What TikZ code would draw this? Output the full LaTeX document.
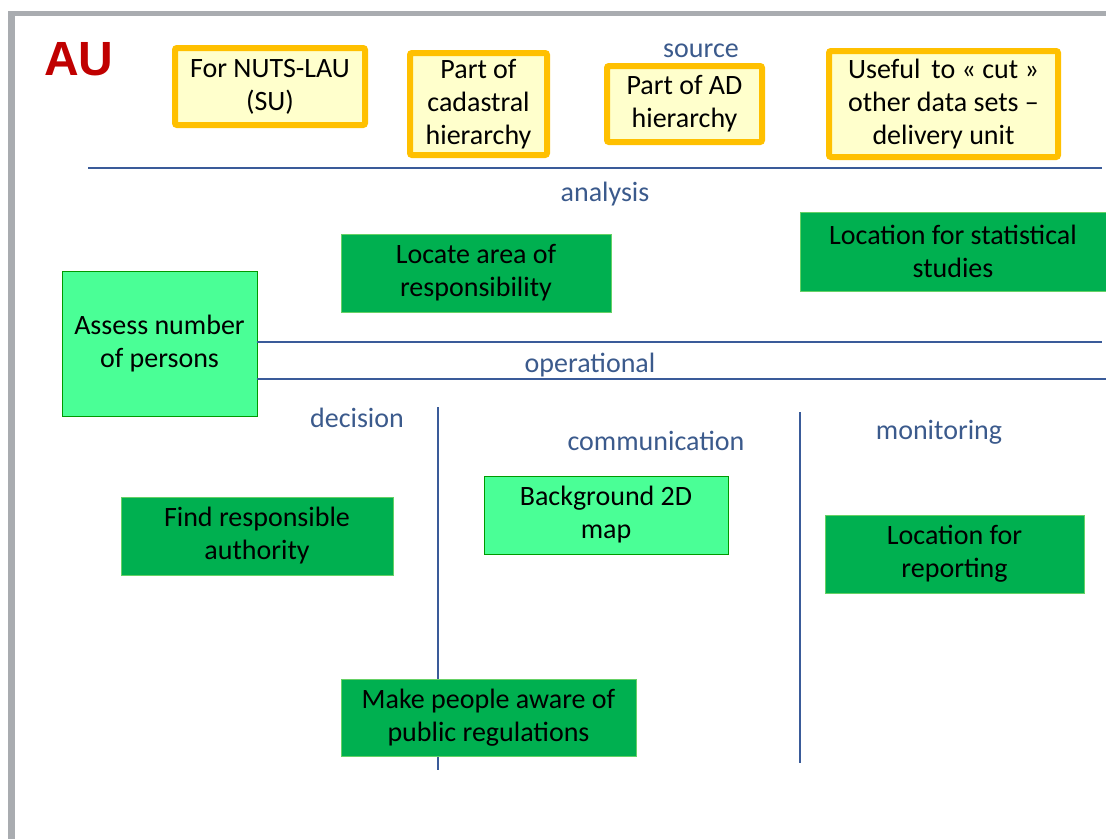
\documentclass[tikz,border=0pt]{standalone}
\usepackage{fontspec}
\setmainfont{Carlito}
\newfontfamily\titlefont{Liberation Sans}
\usepackage{xcolor}
\usepackage{tikz}
\usetikzlibrary{positioning}

\definecolor{srcorange}{HTML}{FFC000}
\definecolor{srcfill}{HTML}{FFFFCC}
\definecolor{darkgreen}{HTML}{00B050}
\definecolor{lightgreen}{HTML}{4AFF96}
\definecolor{labelblue}{HTML}{3B5A8C}
\definecolor{lineblue}{HTML}{3A5B99}
\definecolor{aured}{HTML}{C00000}
\definecolor{framegray}{HTML}{A9ACB0}

\begin{document}
\begin{tikzpicture}[
    x=1pt, y=-1pt,
    source/.style={rectangle, draw=srcorange, line width=6pt, fill=srcfill, rounded corners=2pt, align=center, inner sep=0pt, font=\fontsize{28}{33}\selectfont},
    usecase/.style={rectangle, draw=green!70!black!60, fill=darkgreen, align=center, inner sep=0pt, minimum height=78pt, font=\fontsize{28}{33}\selectfont},
    usecaselight/.style={rectangle, draw=green!60!black, fill=lightgreen, align=center, inner sep=0pt, font=\fontsize{28}{33}\selectfont},
    level/.style={text=labelblue, inner sep=0pt, font=\fontsize{28}{33}\selectfont},
    divider/.style={draw=lineblue, line width=1.5pt}
]
\useasboundingbox (0,0) rectangle (1106,839);

% Frame
\fill[framegray] (8,11) rectangle (1106,16);
\fill[framegray] (8,11) rectangle (15,839);
\node[text=aured, inner sep=0pt, font=\titlefont\bfseries\fontsize{48}{48}\selectfont] (au) at (79,59) {AU};

% Source boxes
\node[source, minimum width=190pt, minimum height=77pt] (src1) at (270,86.5) {For NUTS-LAU\\(SU)};
\node[source, minimum width=137pt, minimum height=102pt] (src2) at (478.5,104) {Part of\\cadastral\\hierarchy};
\node[source, minimum width=155pt, minimum height=76pt] (src3) at (684.5,104) {Part of AD\\hierarchy};
\node[source, minimum width=229pt, minimum height=106pt] (src4) at (943.5,104) {Useful\, to « cut »\\other data sets --\\delivery unit};
\node[level] (source) at (701,50.5) {source};

% Analysis
\coordinate (topl) at (88,168);
\coordinate (topr) at (1102,168);
\draw[divider] (topl) -- (topr);
\node[level] (analysis) at (605,194) {analysis};
\node[usecase, minimum width=270pt] (area) at (476,273) {Locate area of\\responsibility};
\node[usecase, minimum width=306pt, minimum height=79pt] (stat) at (953,251.5) {Location for statistical\\studies};
\node[usecaselight, minimum width=195pt, minimum height=145pt] (assess) at (159.5,343.5) {Assess number\\of persons};

% Operational
\coordinate (opr1) at (1102,342);
\coordinate (opr2) at (1106,379);
\draw[divider] (assess.east |- opr1) -- (opr1);
\draw[divider] (assess.east |- opr2) -- (opr2);
\node[level] (operational) at (590,365) {operational};

% Decision, communication, monitoring
\node[level] (decision) at (357,418) {decision};
\node[level] (communication) at (656,440.5) {communication};
\node[level] (monitoring) at (939,432.5) {monitoring};
\coordinate (v1top) at (438,407);
\coordinate (v1bot) at (438,770);
\coordinate (v2top) at (800,412);
\coordinate (v2bot) at (800,763);
\draw[divider] (v1top) -- (v1bot);
\draw[divider] (v2top) -- (v2bot);

\node[usecase, minimum width=272pt] (find) at (257,536) {Find responsible\\authority};
\node[usecaselight, minimum width=244pt, minimum height=78pt] (map) at (606,515) {Background 2D\\map};
\node[usecase, minimum width=259pt] (report) at (954.5,554) {Location for\\reporting};
\node[usecase, minimum width=295pt, minimum height=77pt] (aware) at (488.5,717.5) {Make people aware of\\public regulations};

\end{tikzpicture}
\end{document}
